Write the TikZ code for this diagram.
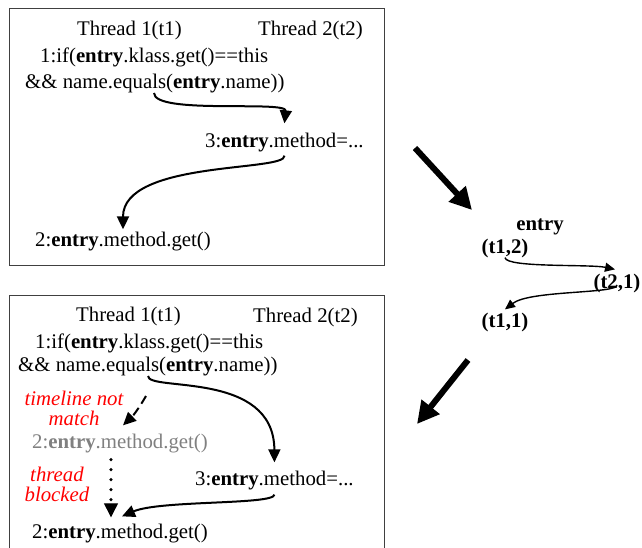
\documentclass[tikz,border=0pt]{standalone}
\usepackage{fontspec}
\setmainfont{Liberation Serif}
\usetikzlibrary{arrows.meta}

\begin{document}
\begin{tikzpicture}[x=1pt, y=-1pt,
        code/.style={inner sep=0pt, font=\fontsize{20.8}{24}\selectfont},
        note/.style={inner sep=0pt, text=red, align=center,
                     font=\fontsize{20.8}{20}\selectfont\itshape},
        pair/.style={inner sep=0pt, font=\fontsize{20.8}{24}\selectfont\bfseries},
        flow/.style={line width=2pt, -{Triangle[length=13pt, width=12pt]}},
        thin flow/.style={line width=1.4pt, -{Triangle[length=10pt, width=9pt]}},
        big arrow/.style={line width=6pt, -{Triangle[length=22pt, width=22pt]}}]
    \useasboundingbox (0,0) rectangle (642,548);

    % first schedule
    \draw [black!75, line width=1pt] (9,9) rectangle (384,265);
    \node [code, right] (t1a) at (77,31) {Thread 1(t1)};
    \node [code, right] (t2a) at (258,31) {Thread 2(t2)};
    \node [code, right] (ifa) at (40,57) {1:if(\textbf{entry}.klass.get()==this};
    \node [code, right] (eqa) at (25,84) {\&\& name.equals(\textbf{entry}.name))};
    \node [code, right] (seta) at (205,143) {3:\textbf{entry}.method=...};
    \node [code, right] (geta) at (35,242) {2:\textbf{entry}.method.get()};
    \coordinate (eqa tail) at (154,93);
    \draw [flow] (eqa tail) .. controls (154,115) and (287,100) .. ([yshift=10pt]seta.north);
    \draw [flow] ([yshift=-3pt]seta.south) .. controls (287,172) and (123,160) .. ([yshift=3pt]geta.north);

    % entry history
    \coordinate (down a) at (415,148);
    \coordinate (down b) at (472,210);
    \draw [big arrow] (down a) -- (down b);
    \node [pair] (ent) at (540,227) {entry};
    \node [pair] (e12) at (505,248) {(t1,2)};
    \node [pair] (e21) at (617,283) {(t2,1)};
    \node [pair] (e11) at (505,322) {(t1,1)};
    \draw [thin flow] (e12.south) .. controls (506,268) and (590,264) .. ([xshift=-2pt,yshift=4pt]e21.north);
    \draw [thin flow] ([yshift=-2pt]e21.center) .. controls (618,294) and (530,290) .. ([yshift=3pt]e11.north);
    \coordinate (back a) at (468,360);
    \coordinate (back b) at (417,424);
    \draw [big arrow] (back a) -- (back b);

    % second schedule
    \draw [black!75, line width=1pt] (9,550) -- (9,295) -- (384,295) -- (384,550);
    \node [code, right] (t1b) at (76,316) {Thread 1(t1)};
    \node [code, right] (t2b) at (253,317) {Thread 2(t2)};
    \node [code, right] (ifb) at (35,343) {1:if(\textbf{entry}.klass.get()==this};
    \node [code, right] (eqb) at (18,367) {\&\& name.equals(\textbf{entry}.name))};
    \node [note] (late) at (74,408) {timeline not\\match};
    \node [code, right, text=black!50] (getg) at (32,444) {2:\textbf{entry}.method.get()};
    \node [note] (block) at (57,484) {thread\\blocked};
    \node [code, right] (setb) at (195,481) {3:\textbf{entry}.method=...};
    \node [code, right] (getb) at (32,534) {2:\textbf{entry}.method.get()};
    \coordinate (eqb tail) at (148,376);
    \coordinate (eqb dot) at (146,396);
    \draw [flow] (eqb tail) .. controls (148,392) and (274,370) .. ([yshift=9pt]setb.north);
    \draw [line width=2pt, dash pattern=on 9pt off 5pt, -{Triangle[length=13pt, width=12pt]}]
        (eqb dot) to [bend left=8] ([xshift=3pt,yshift=9pt]getg.north);
    \draw [line width=3.5pt, line cap=round, dash pattern=on 0pt off 10pt]
        ([xshift=-9pt,yshift=-6pt]getg.south) -- ([xshift=-9pt,yshift=17pt]getb.north);
    \draw [line width=1pt, -{Triangle[length=14pt, width=14pt]}]
        ([xshift=-9pt,yshift=17pt]getb.north) -- ([xshift=-9pt,yshift=7pt]getb.north);
    \draw [flow] ([yshift=-4pt]setb.south) .. controls (274,505) and (160,500) .. ([xshift=2pt,yshift=8pt]getb.north);
\end{tikzpicture}
\end{document}
